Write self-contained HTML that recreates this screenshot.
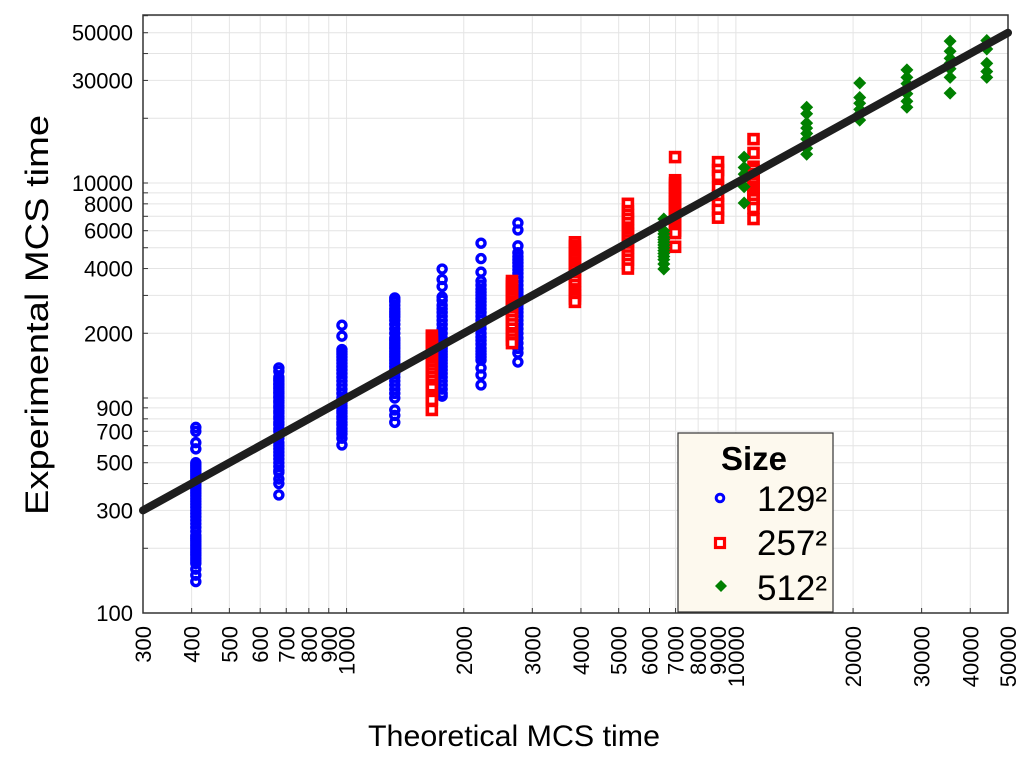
<!DOCTYPE html>
<html><head><meta charset="utf-8"><style>
body{margin:0;background:#fff;}
svg text{font-family:"Liberation Sans",sans-serif;}
</style></head><body>
<svg id="chart" width="1024" height="759" xmlns="http://www.w3.org/2000/svg">
<rect width="1024" height="759" fill="#fff"/>
<g id="grid"></g>
<g id="axes"></g>
<g id="marks"></g>
<text x="514" y="746" font-size="30" text-anchor="middle" textLength="292" lengthAdjust="spacingAndGlyphs">Theoretical MCS time</text>
<text transform="translate(48,315) rotate(-90)" font-size="32" text-anchor="middle" textLength="400" lengthAdjust="spacingAndGlyphs">Experimental MCS time</text>
<g>
<rect x="678" y="433" width="155" height="179" fill="#fdf9ee" stroke="#333" stroke-width="1.2"/>
<text x="754" y="470" font-size="33" font-weight="bold" text-anchor="middle">Size</text>
<g><circle cx="720" cy="498" r="3.8" fill="none" stroke="#0000ff" stroke-width="3"/><text x="757" y="511" font-size="35">129²</text></g>
<g><rect x="715.5" y="538.5" width="9" height="9" fill="#fff" stroke="#ff0000" stroke-width="3.2"/><text x="757" y="555" font-size="35">257²</text></g>
<g><polygon points="721,580 727,586 721,592 715,586" fill="#008000"/><text x="757" y="600" font-size="35">512²</text></g>
</g>
</svg>
<script>
const xTickLabels=[300,400,500,600,700,800,900,1000,2000,3000,4000,5000,6000,7000,8000,9000,10000,20000,30000,40000,50000];
const yTickLabels=[100,300,500,700,900,2000,4000,6000,8000,10000,30000,50000];
const blueX=[410,670,973,1330,1760,2215,2755];
const blueY=[
[730,700,620,580,500,490,480,470,460,450,440,430,420,410,400,390,380,370,360,350,340,330,320,310,300,290,280,270,260,250,240,230,225,220,215,210,205,200,195,190,185,180,175,170,160,150,140],
[1380,1330,1250,1220,1200,1170,1150,1120,1100,1070,1050,1020,1000,970,950,920,900,870,850,820,800,770,750,720,700,670,650,620,600,580,560,540,520,500,480,460,450,420,400,354],
[2180,1940,1680,1640,1600,1550,1500,1450,1400,1350,1300,1250,1200,1150,1100,1050,1000,970,950,920,900,870,850,820,800,770,750,720,700,680,650,605],
[2920,2850,2800,2700,2600,2520,2450,2380,2300,2200,2100,2000,1900,1850,1800,1750,1700,1650,1600,1550,1500,1450,1400,1350,1300,1250,1200,1150,1100,1050,1000,880,830,770],
[3980,3560,3300,2950,2850,2700,2600,2500,2400,2300,2200,2100,2000,1900,1850,1800,1750,1700,1650,1600,1550,1500,1450,1400,1350,1300,1250,1200,1150,1100,1050,1020],
[5250,4450,3850,3500,3350,3200,3100,3000,2900,2800,2700,2600,2500,2400,2300,2200,2100,2000,1920,1850,1780,1700,1650,1600,1550,1500,1380,1280,1150],
[6520,6050,5100,4740,4550,4400,4250,4100,3950,3800,3650,3500,3350,3200,3100,3000,2900,2800,2700,2600,2500,2400,2300,2200,2100,2000,1900,1800,1700,1620,1470]];
const redX=[1656,2660,3860,5280,6980,9000,11100];
const redY=[
[1950,1900,1850,1800,1750,1700,1650,1600,1550,1500,1450,1400,1350,1300,1250,1200,1150,1110,1030,1000,980,880],
[3500,3400,3300,3200,3100,3000,2900,2800,2700,2600,2500,2400,2300,2200,2100,2000,1950,1870,1800],
[5300,5100,5000,4850,4700,4550,4400,4250,4100,3950,3800,3650,3500,3350,3200,3100,3000,2900,2800],
[8000,7400,7100,6800,6500,6200,6000,5800,5600,5400,5200,5000,4800,4600,4400,4200,4000],
[13200,10300,10000,9800,9500,9200,8900,8700,8400,8200,8000,7800,7600,7400,7200,7000,6800,6600,6400,6200,6000,5850,5050],
[12500,11500,10800,9500,8700,8000,7500,6900],
[16000,13800,11900,11500,11000,10600,10300,10000,9600,9300,9000,8700,8400,8000,7650,6800]];
const greenX=[6530,10500,15200,20800,27500,35500,44100];
const greenY=[
[6800,6000,5800,5600,5450,5300,5150,5000,4850,4700,4550,4400,4200,3980],
[13200,11800,11000,10500,9600,8070],
[22500,21000,19000,18000,17000,16000,14500,13600],
[29200,25000,23500,22000,21000,19600],
[33600,31000,29000,27500,26000,24000,22500],
[45700,41000,38000,36000,34000,31000,26200],
[46000,42000,36000,33000,31000]];
const fitLine=[300,50000];

const L=143,R=1008,T=15,B=613;
const xmin=Math.log10(300),xmax=Math.log10(50000);
const X=v=>L+(Math.log10(v)-xmin)/(xmax-xmin)*(R-L);
const Y=v=>B-(Math.log10(v)-2)*215;
const NS='http://www.w3.org/2000/svg';
function mk(tag,attrs,parent){const e=document.createElementNS(NS,tag);for(const k in attrs)e.setAttribute(k,attrs[k]);parent.appendChild(e);return e;}
const grid=document.getElementById('grid'),axes=document.getElementById('axes'),marks=document.getElementById('marks');
for(let d=100;d<=10000;d*=10){for(let m=1;m<10;m++){const v=d*m;
 if(v>=300&&v<=50000){const x=X(v);const g=mk('line',{x1:x,x2:x,y1:T,y2:B,stroke:'#e4e4e4','stroke-width':1},grid);
  
  mk('line',{x1:x,x2:x,y1:B,y2:B-5,stroke:'#333','stroke-width':1},axes);}
 if(v>=100&&v<=60000){const y=Y(v);const g=mk('line',{x1:L,x2:R,y1:y,y2:y,stroke:'#e4e4e4','stroke-width':1},grid);
  
  mk('line',{x1:L,x2:L+5,y1:y,y2:y,stroke:'#333','stroke-width':1},axes);}
}}
mk('rect',{x:L,y:T,width:R-L,height:B-T,fill:'none',stroke:'#333','stroke-width':1.5},axes);
xTickLabels.forEach(v=>{const t=mk('text',{transform:`translate(${X(v)+8},626) rotate(-90)`,'font-size':22,'text-anchor':'end'},axes);t.textContent=v;
 });
yTickLabels.forEach(v=>{const t=mk('text',{x:133,y:Y(v)+8,'font-size':22,'text-anchor':'end'},axes);t.textContent=v;
 });
blueX.forEach((xv,i)=>blueY[i].forEach(yv=>{const c=mk('circle',{cx:X(xv),cy:Y(yv),r:4,fill:'none',stroke:'#0000ff','stroke-width':3.4},marks);
 }));
redX.forEach((xv,i)=>redY[i].forEach(yv=>{const c=mk('rect',{x:X(xv)-4.5,y:Y(yv)-4.5,width:9,height:9,fill:'#fff',stroke:'#ff0000','stroke-width':3.6},marks);
 }));
greenX.forEach((xv,i)=>greenY[i].forEach(yv=>{const x=X(xv),y=Y(yv);const c=mk('polygon',{points:`${x},${y-6.5} ${x+6.5},${y} ${x},${y+6.5} ${x-6.5},${y}`,fill:'#008000'},marks);
 }));
const fl=mk('line',{x1:X(fitLine[0]),y1:Y(fitLine[0]),x2:X(fitLine[1]),y2:Y(fitLine[1]),stroke:'#1e1e1e','stroke-width':8,'stroke-linecap':'round'},marks);


</script>
</body></html>
